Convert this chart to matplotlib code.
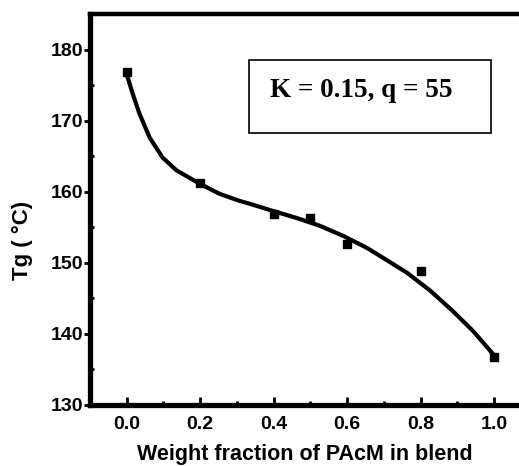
import matplotlib.pyplot as plt
from matplotlib.patches import Rectangle
from matplotlib.ticker import MultipleLocator

# Measured Tg of the blends
w_pacm = [0.0, 0.2, 0.4, 0.5, 0.6, 0.8, 1.0]
tg_meas = [176.8, 161.2, 156.8, 156.3, 152.7, 148.9, 136.8]

# Kwei fit curve
w_fit = [0.0, 0.016, 0.035, 0.063, 0.098, 0.136, 0.2, 0.253, 0.308, 0.335,
         0.398, 0.463, 0.526, 0.589, 0.654, 0.698, 0.763, 0.826, 0.888,
         0.943, 0.995, 1.0]
tg_fit = [176.6, 173.9, 171.0, 167.6, 164.8, 163.0, 161.1, 159.7, 158.7, 158.3,
          157.3, 156.3, 155.2, 153.8, 152.1, 150.7, 148.6, 146.1, 143.2,
          140.4, 137.3, 137.0]

plt.rcParams['font.family'] = ['Liberation Sans', 'DejaVu Sans']

fig = plt.figure(figsize=(5.19, 4.66), dpi=100)
ax = fig.add_axes([0.173, 0.131, 0.827, 0.839])

ax.plot(w_fit, tg_fit, color='black', linewidth=3)
ax.plot(w_pacm, tg_meas, linestyle='none', marker='s', markersize=6, color='black')

ax.set_xlim(-0.1, 1.068)
ax.set_ylim(130, 185)
ax.set_xticks([0.0, 0.2, 0.4, 0.6, 0.8, 1.0])
ax.set_yticks([130, 140, 150, 160, 170, 180])
ax.xaxis.set_minor_locator(MultipleLocator(0.1))
ax.yaxis.set_minor_locator(MultipleLocator(5))
ax.set_xticklabels(['0.0', '0.2', '0.4', '0.6', '0.8', '1.0'], fontweight='bold', fontsize=14)
ax.set_yticklabels(['130', '140', '150', '160', '170', '180'], fontweight='bold', fontsize=14)

ax.tick_params(axis='x', which='major', direction='in', length=6, width=2, pad=8)
ax.tick_params(axis='x', which='minor', direction='in', length=3, width=2)
ax.tick_params(axis='y', which='major', direction='out', length=4, width=2, pad=1)
ax.tick_params(axis='y', which='minor', direction='in', length=3, width=2)

for side in ['left', 'bottom']:
    ax.spines[side].set_linewidth(3.8)
ax.spines['top'].set_linewidth(3.2)
ax.spines['right'].set_visible(False)

ax.set_xlabel('Weight fraction of PAcM in blend', fontweight='bold', fontsize=15.5, labelpad=8)
ax.set_ylabel('Tg ( °C)', fontweight='bold', fontsize=16)
ax.yaxis.set_label_coords(-0.133, 0.42)

ax.add_patch(Rectangle((0.371, 0.696), 0.564, 0.186, transform=ax.transAxes,
                       fill=False, edgecolor='black', linewidth=1.2))
ax.text(0.42, 0.788, 'K = 0.15, q = 55', transform=ax.transAxes,
        fontfamily='Liberation Serif', fontweight='bold', fontsize=19.5,
        va='baseline', ha='left')

fig.savefig('out.png', dpi=100)
